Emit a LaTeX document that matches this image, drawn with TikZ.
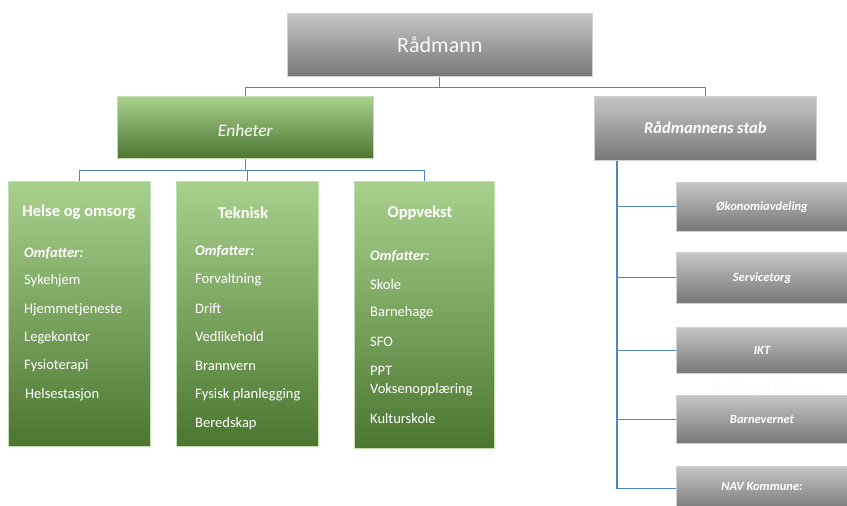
\documentclass[tikz,border=0pt]{standalone}
\usepackage{fontspec}
\setmainfont{Carlito}
\usetikzlibrary{calc}
\definecolor{gtop}{HTML}{A9D18E}
\definecolor{gmid}{HTML}{70AD47}
\definecolor{gbot}{HTML}{4B7630}
\definecolor{ytop}{HTML}{C6C6C6}
\definecolor{ybot}{HTML}{777777}
\definecolor{conncol}{HTML}{4F86C6}
\tikzset{
  greenbox/.style={draw=gtop!70!white, line width=0.6pt, top color=gtop, middle color=gmid, bottom color=gbot, inner sep=0pt, anchor=north west},
  graybox/.style={draw=ytop!80!white, line width=0.6pt, top color=ytop, bottom color=ybot, inner sep=0pt, anchor=north west, text=white},
  conn/.style={draw=conncol, line width=1.1pt},
  titletxt/.style={text=white, font=\fontsize{16.5}{18}\selectfont\bfseries},
  itemtxt/.style={text=white, font=\fontsize{14.5}{16}\selectfont, anchor=west, inner sep=0pt},
  omftxt/.style={text=white, font=\fontsize{14.5}{16}\selectfont\bfseries\itshape, anchor=west, inner sep=0pt},
  stabtxt/.style={text=white, font=\fontsize{12.5}{14}\selectfont\bfseries\itshape},
}
\begin{document}
\begin{tikzpicture}[x=1pt,y=-1pt]
\useasboundingbox[fill=white] (0,0) rectangle (847,506);
\begin{scope}
\clip (0,0) rectangle (847,506);
% top level
\node[graybox, minimum width=305pt, minimum height=63pt] (r) at (287,13) {};
\node[text=white!95!gray, font=\fontsize{22}{24}\selectfont] (rt) at (r.center) {Rådmann};
\node[greenbox, minimum width=256pt, minimum height=62pt] (enh) at (117,96) {};
\node[text=white, font=\fontsize{17.5}{19}\selectfont\itshape] (enht) at ($(enh.center)+(0,3)$) {Enheter};
\node[graybox, minimum width=222pt, minimum height=64pt] (stab) at (594,96) {};
\node[text=white, font=\fontsize{16.5}{18}\selectfont\bfseries\itshape] (stabt) at ($(stab.center)+(0,-1)$) {Rådmannens stab};
% units
\node[greenbox, minimum width=142pt, minimum height=265pt] (hel) at (8,181) {};
\node[greenbox, minimum width=142pt, minimum height=265pt] (tek) at (176,181) {};
\node[greenbox, minimum width=140pt, minimum height=267pt] (opp) at (354,181) {};
% Helse og omsorg
\node[titletxt] (helt) at (79,212) {Helse og omsorg};
\node[omftxt] (helo) at (24,253) {Omfatter:};
\node[itemtxt] (h1) at (24,281) {Sykehjem};
\node[itemtxt] (h2) at (24,310) {Hjemmetjeneste};
\node[itemtxt] (h3) at (24,338) {Legekontor};
\node[itemtxt] (h4) at (24,366) {Fysioterapi};
\node[itemtxt] (h5) at (25,395) {Helsestasjon};
% Teknisk
\node[titletxt] (tekt) at (243,213) {Teknisk};
\node[omftxt] (teko) at (195,251) {Omfatter:};
\node[itemtxt] (t1) at (195,280) {Forvaltning};
\node[itemtxt] (t2) at (195,309) {Drift};
\node[itemtxt] (t3) at (195,337) {Vedlikehold};
\node[itemtxt] (t4) at (195,366) {Brannvern};
\node[itemtxt] (t5) at (195,395) {Fysisk planlegging};
\node[itemtxt] (t6) at (195,424) {Beredskap};
% Oppvekst
\node[titletxt] (oppt) at (420,213) {Oppvekst};
\node[omftxt] (oppo) at (370,256) {Omfatter:};
\node[itemtxt] (o1) at (370,285) {Skole};
\node[itemtxt] (o2) at (370,313) {Barnehage};
\node[itemtxt] (o3) at (370,342) {SFO};
\node[itemtxt] (o4) at (370,371) {PPT};
\node[itemtxt] (o5) at (370,390) {Voksenopplæring};
\node[itemtxt] (o6) at (370,419) {Kulturskole};
% staff units
\node[graybox, minimum width=175pt, minimum height=49pt] (oko) at (676,182) {};
\node[stabtxt] (okot) at ($(oko.west)+(86,0)$) {Økonomiavdeling};
\node[graybox, minimum width=175pt, minimum height=51pt] (ser) at (676,252) {};
\node[stabtxt] (sert) at ($(ser.west)+(86,0)$) {Servicetorg};
\node[graybox, minimum width=175pt, minimum height=46pt] (ikt) at (676,327) {};
\node[stabtxt] (iktt) at ($(ikt.west)+(86,0)$) {IKT};
\node[text=gray!4, font=\fontsize{12.5}{14}\selectfont] (kmp) at (766,388) {Kjell Magne Pedersen};
\node[graybox, minimum width=175pt, minimum height=48pt] (bar) at (676,395) {};
\node[stabtxt] (bart) at ($(bar.west)+(86,0)$) {Barnevernet};
\node[graybox, minimum width=175pt, minimum height=45pt] (nav) at (676,466) {};
\node[stabtxt] (navt) at ($(nav.west)+(86,-2)$) {NAV Kommune:};
\end{scope}
% connectors
\draw[conn] (r.south) -- ++(0,11) -| (enh.north);
\draw[conn] (r.south) ++(0,11) -| (stab.north);
\draw[conn] (enh.south) -- ++(0,12) -| (hel.north);
\draw[conn] (enh.south) ++(0,12) -| (tek.north);
\draw[conn] (enh.south) ++(0,12) -| (opp.north);
\coordinate (trunk) at ($(stab.south west)+(23,0)$);
\draw[conn] (trunk) |- (nav.west);
\draw[conn] (oko.west) -- (oko.west -| trunk);
\draw[conn] (ser.west) -- (ser.west -| trunk);
\draw[conn] (ikt.west) -- (ikt.west -| trunk);
\draw[conn] (bar.west) -- (bar.west -| trunk);
\end{tikzpicture}
\end{document}
